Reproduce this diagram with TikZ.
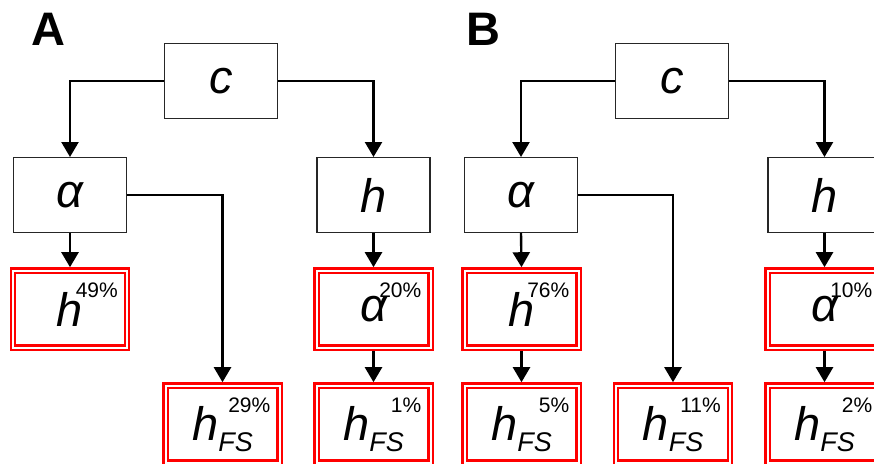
\documentclass[tikz,border=0pt]{standalone}
\usepackage{fontspec}
\setmainfont{Liberation Sans}
\usetikzlibrary{arrows.meta,calc}
\newcommand{\bigfont}{\fontsize{47}{47}\selectfont}
\newcommand{\subfs}[1]{{\fontsize{27}{27}\selectfont\raisebox{-11pt}{#1}}}
\begin{document}
\begin{tikzpicture}[x=1pt,y=-1pt,
  plainbox/.style={draw=black!85, line width=1.1pt, minimum width=113pt, minimum height=75pt,
    inner sep=0pt, outer sep=0.5pt, font=\bigfont\itshape},
  redbox/.style={draw=red, line width=2.3pt, double=white, double distance=2pt,
    minimum width=114pt, minimum height=77pt, inner sep=0pt, outer sep=3.3pt, font=\bigfont\itshape},
  fsbox/.style={redbox, text height=33pt, text depth=0pt},
  pct/.style={anchor=base east, inner sep=0pt, font=\fontsize{21}{21}\selectfont},
  arr/.style={line width=2.4pt, -{Triangle[width=17pt,length=15pt]}},
  panel/.style={anchor=base west, inner sep=0pt, font=\bigfont\bfseries}
]
\useasboundingbox (0,0) rectangle (874,463);

% ---------- Panel A ----------
\node[panel] (labA) at (31,45) {A};
\node[plainbox] (cA) at (221,81) {c};
\node[plainbox] (aA) at (70,195) {α};
\node[plainbox] (hA) at (373.5,195) {h};
\node[redbox] (h49) at (70,309) {h};
\node[redbox] (a20) at (373.5,309) {α};
\node[fsbox] (f29) at (222.5,424) {h\subfs{FS}};
\node[fsbox] (f1) at (373.5,424) {h\subfs{FS}};
\node[pct] (p49) at ($(h49.center)+(48,-12)$) {49\%};
\node[pct] (p20) at ($(a20.center)+(48,-12)$) {20\%};
\node[pct] (p29) at ($(f29.center)+(48,-12)$) {29\%};
\node[pct] (p1) at ($(f1.center)+(48,-12)$) {1\%};

\draw[arr] (cA.west) -| (aA.north);
\draw[arr] (cA.east) -| (hA.north);
\draw[arr] (aA.east) -| (f29.north);
\draw[arr] (aA.south) -- (h49.north);
\draw[arr] (hA.south) -- (a20.north);
\draw[arr] (a20.south) -- (f1.north);

% ---------- Panel B ----------
\node[panel] (labB) at (466,45) {B};
\node[plainbox] (cB) at (672,81) {c};
\node[plainbox] (aB) at (521,195) {α};
\node[plainbox] (hB) at (824.5,195) {h};
\node[redbox] (h76) at (521.5,309) {h};
\node[redbox] (a10) at (824.5,309) {α};
\node[fsbox] (f5) at (521.5,424) {h\subfs{FS}};
\node[fsbox] (f11) at (673,424) {h\subfs{FS}};
\node[fsbox] (f2) at (824.5,424) {h\subfs{FS}};
\node[pct] (p76) at ($(h76.center)+(48,-12)$) {76\%};
\node[pct] (p10) at ($(a10.center)+(48,-12)$) {10\%};
\node[pct] (p5) at ($(f5.center)+(48,-12)$) {5\%};
\node[pct] (p11) at ($(f11.center)+(48,-12)$) {11\%};
\node[pct] (p2) at ($(f2.center)+(48,-12)$) {2\%};

\draw[arr] (cB.west) -| (aB.north);
\draw[arr] (cB.east) -| (hB.north);
\draw[arr] (aB.east) -| (f11.north);
\draw[arr] (aB.south) -- (h76.north);
\draw[arr] (h76.south) -- (f5.north);
\draw[arr] (hB.south) -- (a10.north);
\draw[arr] (a10.south) -- (f2.north);
\end{tikzpicture}
\end{document}
